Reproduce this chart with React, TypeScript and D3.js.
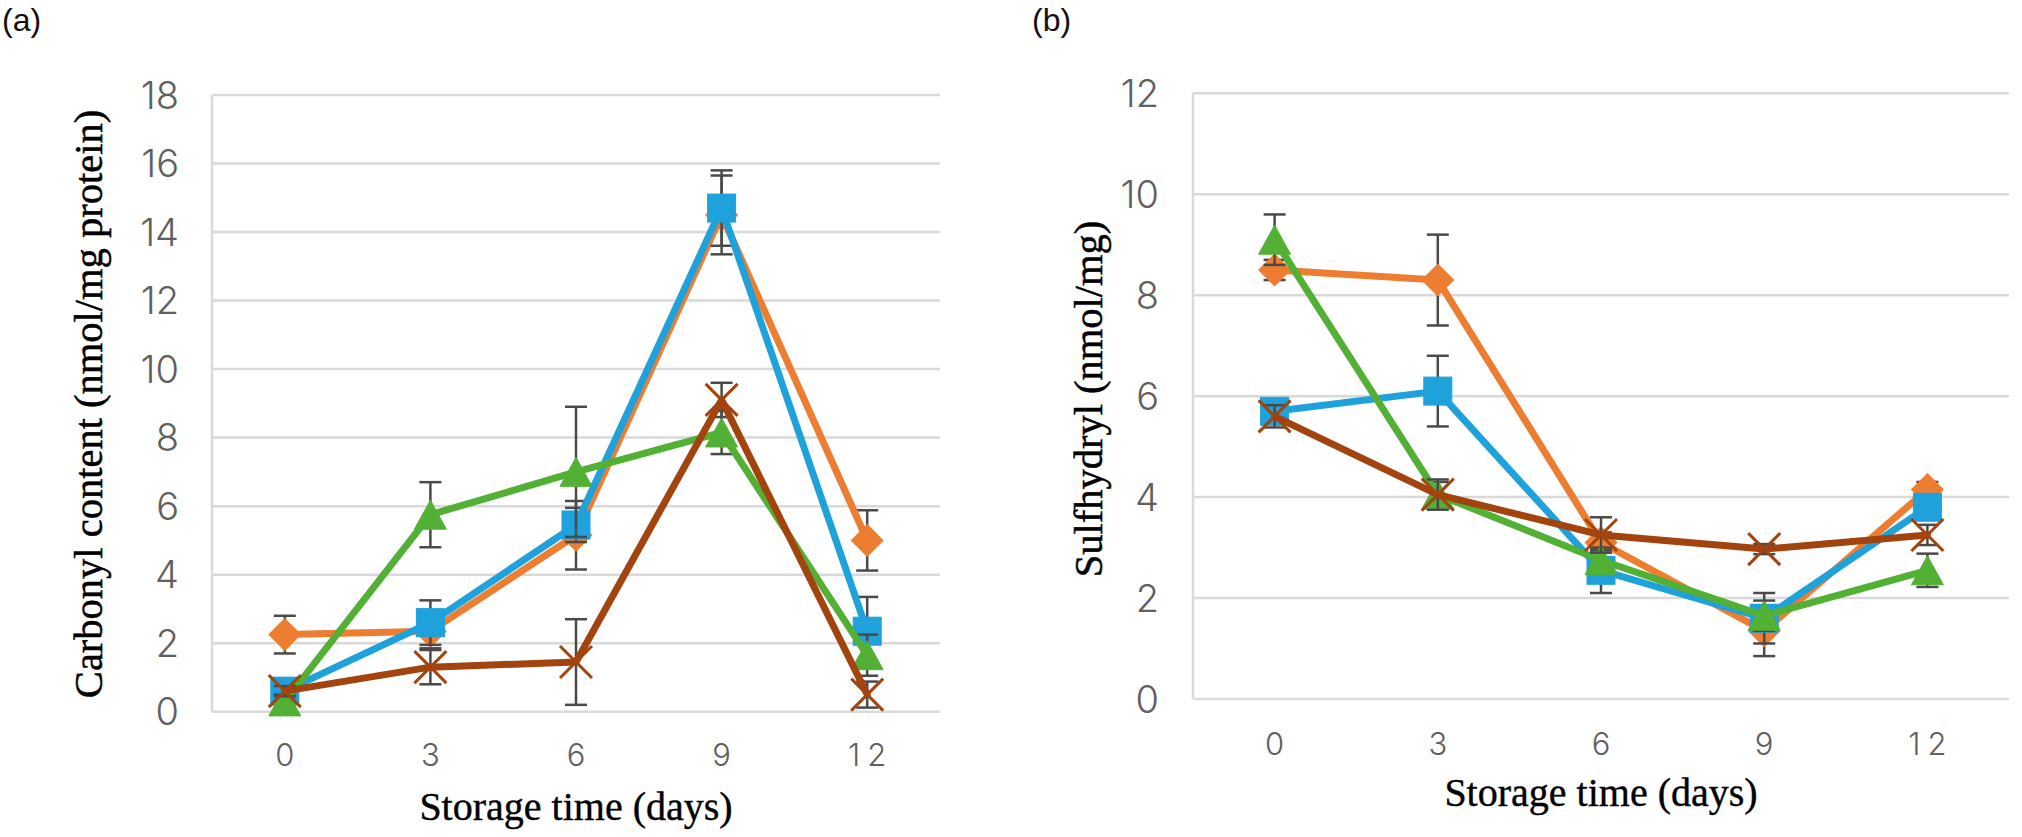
import React from 'react';
import * as d3 from 'd3';

// ---------- data ----------
const days = ['0', '3', '6', '9', '12'];

const carbonylTicks = [0, 2, 4, 6, 8, 10, 12, 14, 16, 18];
const carbonylOrange = [2.25, 2.35, 5.15, 14.5, 5.0];
const carbonylOrangeErr = [0.55, 0.5, 1.0, 1.15, 0.88];
const carbonylBlue = [0.6, 2.6, 5.45, 14.7, 2.35];
const carbonylBlueErr = [0.2, 0.65, 0.5, 1.1, 1.0];
const carbonylGreen = [0.3, 5.75, 7.0, 8.15, 1.65];
const carbonylGreenErr = [0.2, 0.95, 1.9, 0.63, 0.6];
const carbonylBrown = [0.6, 1.3, 1.45, 9.1, 0.5];
const carbonylBrownErr = [0.15, 0.5, 1.25, 0.5, 0.38];

const sulfTicks = [0, 2, 4, 6, 8, 10, 12];
const sulfOrange = [8.5, 8.3, 3.1, 1.35, 4.15];
const sulfOrangeErr = [0.2, 0.9, 0.2, 0.5, 0.15];
const sulfBlue = [5.7, 6.1, 2.55, 1.6, 3.8];
const sulfBlueErr = [0.15, 0.7, 0.45, 0.5, 0.2];
const sulfGreen = [9.1, 4.05, 2.75, 1.65, 2.55];
const sulfGreenErr = [0.5, 0.25, 0.2, 0.3, 0.33];
const sulfBrown = [5.6, 4.05, 3.25, 2.97, 3.25];
const sulfBrownErr = [0.22, 0.3, 0.35, 0.1, 0.2];

const xTitle = 'Storage time (days)';

// ---------- style ----------
const COLORS = {
  orange: '#ED7D31',
  blue: '#1FA1DC',
  green: '#52B035',
  brown: '#A3430D',
};
const GRID = '#D9D9D9';
const ERR = '#4A4A4A';
const TICK_COLOR = '#606060';
const TICK_FONT = 'Inter, "Noto Sans", sans-serif';
const TITLE_FONT = '"Liberation Serif", "Times New Roman", serif';

type Marker = 'diamond' | 'square' | 'triangle' | 'x';
interface Series {
  values: number[];
  errors: number[];
  color: string;
  marker: Marker;
}

function markerEl(type: Marker, cx: number, cy: number, color: string, key: string) {
  if (type === 'diamond') {
    const h = 15.5;
    return (
      <path key={key} d={`M${cx},${cy - h}L${cx + h},${cy}L${cx},${cy + h}L${cx - h},${cy}Z`} fill={color} stroke={color} strokeWidth={1.5} />
    );
  }
  if (type === 'square') {
    const h = 14;
    return <rect key={key} x={cx - h} y={cy - h} width={2 * h} height={2 * h} fill={color} stroke={color} strokeWidth={1} />;
  }
  if (type === 'triangle') {
    const w = 16;
    const hh = 14.5;
    return (
      <path key={key} d={`M${cx},${cy - hh}L${cx + w},${cy + hh}L${cx - w},${cy + hh}Z`} fill={color} stroke={color} strokeWidth={1} />
    );
  }
  const s = 16;
  return (
    <path key={key} d={`M${cx - s},${cy - s}L${cx + s},${cy + s}M${cx + s},${cy - s}L${cx - s},${cy + s}`} stroke={color} strokeWidth={3} fill="none" />
  );
}

interface Layout {
  left: number;
  right: number;
  top: number;
  bottom: number;
  yLabelX: number;
  xLabelY: number;
  yTitleX: number;
  yTitleY: number;
  xTitleY: number;
  panelLabelX: number;
}

function Panel({ layout, ticks, series, yTitle, panelLabel }: { layout: Layout; ticks: number[]; series: Series[]; yTitle: string; panelLabel: string }) {
  const x = d3.scalePoint<string>().domain(days).range([layout.left, layout.right]).padding(0.5);
  const y = d3.scaleLinear().domain([0, d3.max(ticks)!]).range([layout.bottom, layout.top]);
  const line = d3
    .line<number>()
    .x((_, i) => x(days[i])!)
    .y((d) => y(d));
  const cap = 11;
  const cx = (layout.left + layout.right) / 2;
  const xls = 7;

  return (
    <g>
      <text x={layout.panelLabelX} y={31} fontFamily={'"Liberation Sans", Arial, sans-serif'} fontSize={32} fill="#111">
        {panelLabel}
      </text>
      {ticks.map((t) => (
        <line key={'g' + t} x1={layout.left} x2={layout.right} y1={y(t)} y2={y(t)} stroke={GRID} strokeWidth={2.5} />
      ))}
      <line x1={layout.left} x2={layout.left} y1={y(d3.max(ticks)!)} y2={y(0)} stroke={GRID} strokeWidth={2.5} />
      {ticks.map((t) => (
        <text key={'t' + t} x={layout.yLabelX} y={y(t)} dy="0.36em" textAnchor="end" fontFamily={TICK_FONT} fontWeight={300} fontSize={38} fill={TICK_COLOR}>
          {t}
        </text>
      ))}
      {days.map((d) => (
        <text key={'x' + d} x={x(d)! + xls / 2} y={layout.xLabelY} textAnchor="middle" fontFamily={TICK_FONT} fontWeight={300} fontSize={31} letterSpacing={xls} fill={TICK_COLOR}>
          {d}
        </text>
      ))}
      <text
        transform={`translate(${layout.yTitleX},${layout.yTitleY}) rotate(-90)`}
        textAnchor="middle"
        fontFamily={TITLE_FONT}
        fontSize={40.5}
        fill="#000"
        stroke="#000"
        strokeWidth={0.5}
      >
        {yTitle}
      </text>
      <text x={cx} y={layout.xTitleY} textAnchor="middle" fontFamily={TITLE_FONT} fontSize={40} fill="#000" stroke="#000" strokeWidth={0.4}>
        {xTitle}
      </text>
      {series.map((s, si) => (
        <g key={'s' + si}>
          {s.values.map((v, i) => {
            const px = x(days[i])!;
            const y1 = y(v + s.errors[i]);
            const y2 = y(Math.max(0, v - s.errors[i]));
            return (
              <g key={'e' + i} stroke={ERR} strokeWidth={2.5}>
                <line x1={px} x2={px} y1={y1} y2={y2} />
                <line x1={px - cap} x2={px + cap} y1={y1} y2={y1} />
                <line x1={px - cap} x2={px + cap} y1={y2} y2={y2} />
              </g>
            );
          })}
          <path d={line(s.values)!} fill="none" stroke={s.color} strokeWidth={7} strokeLinejoin="round" strokeLinecap="round" />
          {s.values.map((v, i) => markerEl(s.marker, x(days[i])!, y(v), s.color, 'm' + i))}
        </g>
      ))}
    </g>
  );
}

export default function App() {
  const carbSeries: Series[] = [
    { values: carbonylOrange, errors: carbonylOrangeErr, color: COLORS.orange, marker: 'diamond' },
    { values: carbonylBlue, errors: carbonylBlueErr, color: COLORS.blue, marker: 'square' },
    { values: carbonylGreen, errors: carbonylGreenErr, color: COLORS.green, marker: 'triangle' },
    { values: carbonylBrown, errors: carbonylBrownErr, color: COLORS.brown, marker: 'x' },
  ];
  const sulfSeries: Series[] = [
    { values: sulfOrange, errors: sulfOrangeErr, color: COLORS.orange, marker: 'diamond' },
    { values: sulfBlue, errors: sulfBlueErr, color: COLORS.blue, marker: 'square' },
    { values: sulfGreen, errors: sulfGreenErr, color: COLORS.green, marker: 'triangle' },
    { values: sulfBrown, errors: sulfBrownErr, color: COLORS.brown, marker: 'x' },
  ];
  const layoutA: Layout = {
    left: 212, right: 940, top: 95, bottom: 711.7,
    yLabelX: 179, xLabelY: 766, yTitleX: 102, yTitleY: 404, xTitleY: 820, panelLabelX: 2,
  };
  const layoutB: Layout = {
    left: 1193, right: 2009, top: 93.3, bottom: 699,
    yLabelX: 1159, xLabelY: 755, yTitleX: 1102, yTitleY: 399, xTitleY: 806, panelLabelX: 1032,
  };
  return (
    <svg width={2022} height={837} style={{ position: 'absolute', left: 0, top: 0, background: '#fff' }}>
      <rect width={2022} height={837} fill="#fff" />
      <Panel layout={layoutA} ticks={carbonylTicks} series={carbSeries} yTitle="Carbonyl content (nmol/mg protein)" panelLabel="(a)" />
      <Panel layout={layoutB} ticks={sulfTicks} series={sulfSeries} yTitle="Sulfhydryl (nmol/mg)" panelLabel="(b)" />
    </svg>
  );
}
